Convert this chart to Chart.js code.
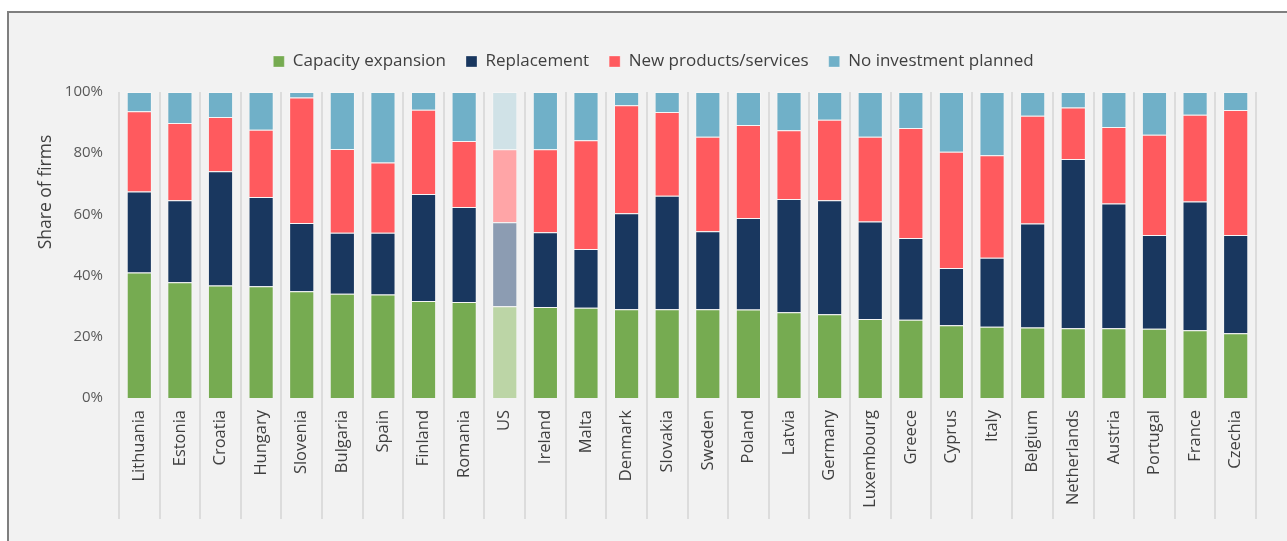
<!DOCTYPE html>
<html>
<head>
<meta charset="utf-8">
<script src="https://cdn.jsdelivr.net/npm/chart.js@4/dist/chart.umd.min.js"></script>
<style>
    html, body { margin: 0; padding: 0; background: #ffffff; }
    #wrap {
        position: absolute; left: 7px; top: 11px;
        width: 1280px; height: 530px;
        border-left: 2px solid #7f7f7f; border-top: 2px solid #7f7f7f;
        background: #f2f2f2;
    }
    #chart { display: block; }
</style>
</head>
<body>
<div id="wrap"><canvas id="chart" width="1278" height="528"></canvas></div>
<script>
const countries = ['Lithuania', 'Estonia', 'Croatia', 'Hungary', 'Slovenia', 'Bulgaria', 'Spain', 'Finland', 'Romania', 'US',
    'Ireland', 'Malta', 'Denmark', 'Slovakia', 'Sweden', 'Poland', 'Latvia', 'Germany', 'Luxembourg', 'Greece',
    'Cyprus', 'Italy', 'Belgium', 'Netherlands', 'Austria', 'Portugal', 'France', 'Czechia'];

const capacityExpansion = [41.0, 37.8, 36.8, 36.5, 34.9, 34.1, 33.8, 31.7, 31.4, 30.0,
    29.7, 29.5, 29.0, 29.0, 29.0, 28.9, 28.0, 27.4, 25.8, 25.6,
    23.8, 23.3, 23.0, 22.8, 22.8, 22.6, 22.1, 21.2];
const replacement = [26.5, 26.8, 37.3, 29.2, 22.3, 19.9, 20.2, 35.0, 31.0, 27.4,
    24.5, 19.2, 31.4, 37.1, 25.5, 29.9, 37.0, 37.2, 31.9, 26.7,
    18.7, 22.5, 34.0, 55.3, 40.8, 30.7, 42.1, 32.1];
const newProducts = [26.2, 25.3, 17.7, 22.0, 41.0, 27.4, 23.0, 27.5, 21.6, 23.9,
    27.1, 35.5, 35.3, 27.4, 30.9, 30.4, 22.5, 26.3, 27.7, 35.9,
    38.0, 33.5, 35.2, 16.8, 25.0, 32.7, 28.4, 40.8];
const noInvestment = [6.3, 10.1, 8.2, 12.3, 1.8, 18.6, 23.0, 5.8, 16.0, 18.7,
    18.7, 15.8, 4.3, 6.5, 14.6, 10.8, 12.5, 9.1, 14.6, 11.8,
    19.5, 20.7, 7.8, 5.1, 11.4, 14.0, 7.4, 5.9];
const yTicks = [0, 20, 40, 60, 80, 100];

// US bar is drawn in faded shades
const fade = (main, light) => countries.map(c => c === 'US' ? light : main);

const yTitle = {
    id: 'yTitle',
    afterDraw(chart) {
        const ctx = chart.ctx;
        ctx.save();
        ctx.translate(37, 179);
        ctx.rotate(-Math.PI / 2);
        ctx.font = '17.5px "Open Sans"';
        ctx.fillStyle = '#404040';
        ctx.textAlign = 'center';
        ctx.textBaseline = 'middle';
        ctx.fillText('Share of firms', 0, 0);
        ctx.restore();
    }
};

// fixed legend height, and legend nudged right like in the original
const legendTweak = {
    id: 'legendTweak',
    afterInit(chart) {
        const legend = chart.legend;
        const fit = legend.fit;
        legend.fit = function () {
            fit.call(this);
            this.height = 59;
        };
        const draw = legend.draw;
        legend.draw = function () {
            this.ctx.save();
            this.ctx.translate(21, 0);
            draw.call(this);
            this.ctx.restore();
        };
    }
};

const ctx = document.getElementById('chart').getContext('2d');
new Chart(ctx, {
    type: 'bar',
    data: {
        labels: countries,
        datasets: [
            {
                label: 'Capacity expansion',
                data: capacityExpansion,
                backgroundColor: fade('#76ab51', '#bcd5a6'),
                borderColor: 'rgba(255,255,255,0.3)',
                borderWidth: 1
            },
            {
                label: 'Replacement',
                data: replacement,
                backgroundColor: fade('#19375f', '#8c9cb2'),
                borderColor: 'rgba(255,255,255,0.3)',
                borderWidth: 1
            },
            {
                label: 'New products/services',
                data: newProducts,
                backgroundColor: fade('#ff5a5e', '#ffa5a7'),
                borderColor: 'rgba(255,255,255,0.3)',
                borderWidth: 1
            },
            {
                label: 'No investment planned',
                data: noInvestment,
                backgroundColor: fade('#70b0c8', '#d0e2e7'),
                borderColor: 'rgba(255,255,255,0.3)',
                borderWidth: 1
            }
        ]
    },
    options: {
        responsive: false,
        animation: false,
        layout: { padding: { top: 20, right: 31, left: 0, bottom: 0 } },
        datasets: { bar: { barPercentage: 0.62, categoryPercentage: 1 } },
        plugins: {
            legend: {
                position: 'top',
                labels: {
                    boxWidth: 11,
                    boxHeight: 11,
                    padding: 20,
                    color: '#404040',
                    font: { family: 'Open Sans', size: 17 }
                }
            },
            tooltip: { enabled: false }
        },
        scales: {
            x: {
                stacked: true,
                border: { display: false },
                grid: { offset: true, color: '#dcdcdc', lineWidth: 2, drawTicks: true, tickLength: 121, tickColor: '#dcdcdc' },
                ticks: {
                    autoSkip: false,
                    minRotation: 90,
                    maxRotation: 90,
                    padding: -109,
                    color: '#404040',
                    font: { family: 'Open Sans', size: 16.5 }
                },
                afterFit(scale) { scale.height = 143; }
            },
            y: {
                stacked: true,
                min: 0,
                max: 100,
                border: { display: false },
                grid: { display: false },
                afterBuildTicks(scale) { scale.ticks = yTicks.map(v => ({ value: v })); },
                ticks: {
                    padding: 8,
                    color: '#595959',
                    font: { family: 'Open Sans', size: 15 },
                    callback: v => v + '%'
                },
                afterFit(scale) { scale.width = 110; }
            }
        }
    },
    plugins: [yTitle, legendTweak]
});
</script>
</body>
</html>
